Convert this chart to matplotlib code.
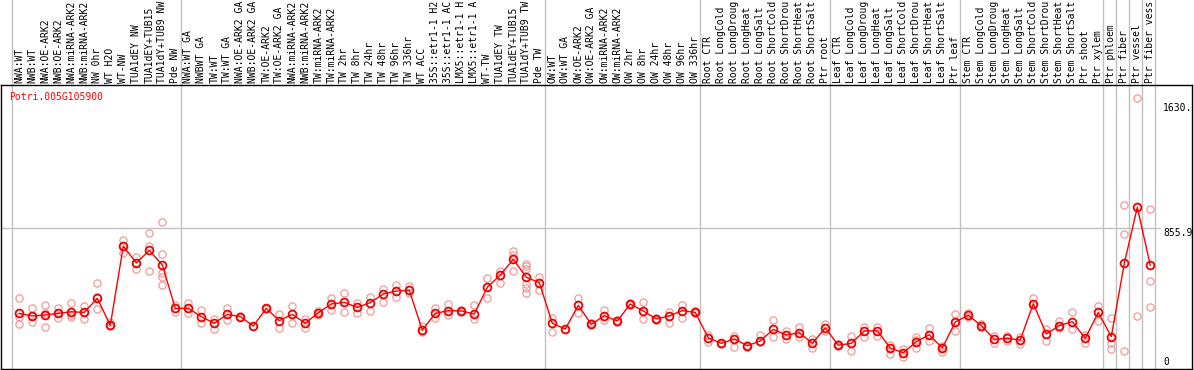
import matplotlib
matplotlib.use("Agg")
import matplotlib.pyplot as plt
import numpy as np

title = "Potri.005G105900"

# sample labels as they appear in the reference (cut at 14 characters)
labels = [
    "NWA:WT", "NWB:WT", "NWA:OE-ARK2", "NWB:OE-ARK2", "NWA:miRNA-ARK2", "NWB:miRNA-ARK2",
    "NW 0hr", "WT H2O", "WT-NW", "TUA1dEY NW", "TUA1dEY+TUB15", "TUA1dY+TUB9 NW", "Pde NW",
    "NWA:WT GA", "NWBWT GA", "TW:WT", "TW:WT GA", "NWA:OE-ARK2 GA", "NWB:OE-ARK2 GA",
    "TW:OE-ARK2", "TW:OE-ARK2 GA", "NWA:miRNA-ARK2", "NWB:miRNA-ARK2",
    "TW:miRNA-ARK2", "TW:miRNA-ARK2", "TW 2hr", "TW 8hr", "TW 24hr", "TW 48hr",
    "TW 96hr", "TW 336hr", "WT ACC", "35S::etr1-1 H2", "35S::etr1-1 AC",
    "LMX5::etr1-1 H", "LMX5::etr1-1 A", "WT-TW", "TUA1dEY TW", "TUA1dEY+TUB15",
    "TUA1dY+TUB9 TW", "Pde TW",
    "OW:WT", "OW:WT GA", "OW:OE-ARK2", "OW:OE-ARK2 GA", "OW:miRNA-ARK2", "OW:miRNA-ARK2",
    "OW 2hr", "OW 8hr", "OW 24hr", "OW 48hr", "OW 96hr", "OW 336hr",
    "Root CTR", "Root LongCold", "Root LongDroug", "Root LongHeat", "Root LongSalt",
    "Root ShortCold", "Root ShortDrou", "Root ShortHeat", "Root ShortSalt", "Ptr root",
    "Leaf CTR", "Leaf LongCold", "Leaf LongDroug", "Leaf LongHeat", "Leaf LongSalt",
    "Leaf ShortCold", "Leaf ShortDrou", "Leaf ShortHeat", "Leaf ShortSalt", "Ptr leaf",
    "Stem CTR", "Stem LongCold", "Stem LongDroug", "Stem LongHeat", "Stem LongSalt",
    "Stem ShortCold", "Stem ShortDrou", "Stem ShortHeat", "Stem ShortSalt", "Ptr shoot",
    "Ptr xylem", "Ptr phloem", "Ptr fiber", "Ptr vessel", "Ptr fiber vess",
]

means = [
    330, 314, 320, 330, 340, 336, 423, 256, 746, 641,
    719, 629, 361, 361, 310, 269, 324, 310, 252, 361,
    285, 324, 269, 334, 388, 398, 367, 396, 450, 468,
    472, 227, 330, 347, 345, 326, 491, 567, 664, 553,
    520, 269, 233, 380, 262, 316, 283, 388, 345, 295,
    314, 347, 336, 178, 145, 172, 130, 160, 231, 196,
    211, 145, 240, 133, 145, 221, 223, 116, 87, 155,
    198, 116, 277, 318, 254, 170, 176, 166, 390, 203,
    254, 279, 176, 336, 186, 639, 985, 627,
]

replicates = [
    [423, 306, 262], [361, 275, 314], [380, 330, 248], [361, 300, 330],
    [396, 320, 306], [375, 293, 336], [518, 433, 355], [279, 256, 250],
    [783, 746, 701], [680, 602, 641], [826, 748, 590], [893, 697, 578, 557, 507],
    [382, 340], [392, 330], [351, 273], [293, 231], [361, 289], [316, 305],
    [252], [365, 357], [324, 238], [375, 269], [295, 238], [346, 322],
    [423, 351], [458, 336], [396, 330], [429, 343], [481, 400], [505, 433],
    [499, 454], [252, 215], [365, 303], [388, 320], [352, 338], [380, 293],
    [547, 427], [594, 516], [717, 690, 594], [635, 620, 602, 511, 485, 458],
    [553, 474], [300, 213], [233], [423, 330], [269, 256], [351, 289],
    [290, 276], [393, 383], [400, 293], [299, 291], [340, 269], [380, 303],
    [345, 330], [196, 155], [150, 140], [192, 120], [135, 125], [194, 155],
    [289, 186], [223, 170], [248, 182], [170, 118], [264, 223], [140, 126],
    [190, 98], [248, 186], [248, 190], [135, 116, 79], [108, 87, 62], [186, 165, 114],
    [238, 198, 161], [126, 116, 93], [326, 277, 219], [330, 306], [264, 244], [190, 145],
    [190, 162], [182, 141], [423, 380], [231, 161], [285, 238], [336, 231],
    [198, 149], [375, 285], [300, 145, 112], [997, 820, 99], [1658, 314], [973, 528, 371],
]

section_starts = [0, 13, 41, 53, 63, 73, 84, 85, 86, 87, 88]
ytick_values = [1630.0, 855.9, 0.0]
ytick_texts = ["1630.", "855.9", "0"]

W, H = 1194, 370
fig = plt.figure(figsize=(W / 100, H / 100), dpi=100)
ax = fig.add_axes([1 / W, 1 / H, 1191 / W, 284 / H])

x = np.arange(len(labels))
ax.set_xlim(-1.408, 90.208)
ax.set_ylim(-13.6, 1740.6)

mono = "DejaVu Sans Mono"
fs = 7.0

# separators
for b in section_starts:
    ax.axvline(b - 0.6, 0, 1.31, color="#c0c0c0", lw=1.0, clip_on=False, zorder=0.5)
ax.axhline(855.9, 0, (1160 - 1) / 1191, color="#c0c0c0", lw=1.0, zorder=0.5)

# replicates
rx = [i for i, r in enumerate(replicates) for _ in r]
ry = [v for r in replicates for v in r]
ax.plot(rx, ry, linestyle="none", marker="o", markersize=5.2, markerfacecolor="none",
        markeredgecolor="#f09a9a", markeredgewidth=0.9, zorder=2)

# mean line
ax.plot(x, means, color="#ff0000", lw=1.0, marker="o", markersize=5.6,
        markerfacecolor="none", markeredgecolor="#ee0000", markeredgewidth=1.3, zorder=3)

ax.xaxis.tick_top()
ax.set_xticks(x)
ax.set_xticklabels(labels, rotation=90, fontsize=fs, family=mono)
ax.tick_params(axis="x", length=0, pad=1.5)
ax.set_yticks([])

for s in ax.spines.values():
    s.set_color("black")
    s.set_linewidth(1.0)

for v, t in zip(ytick_values, ytick_texts):
    ax.text(88.0, v, t, ha="left", va=("bottom" if v == 0 else "top"),
            fontsize=fs, family=mono, color="black")

ax.text(-0.77, 1668, title, ha="left", va="center", fontsize=fs, family=mono, color="#ff0000")

fig.savefig("out.png", dpi=100)
